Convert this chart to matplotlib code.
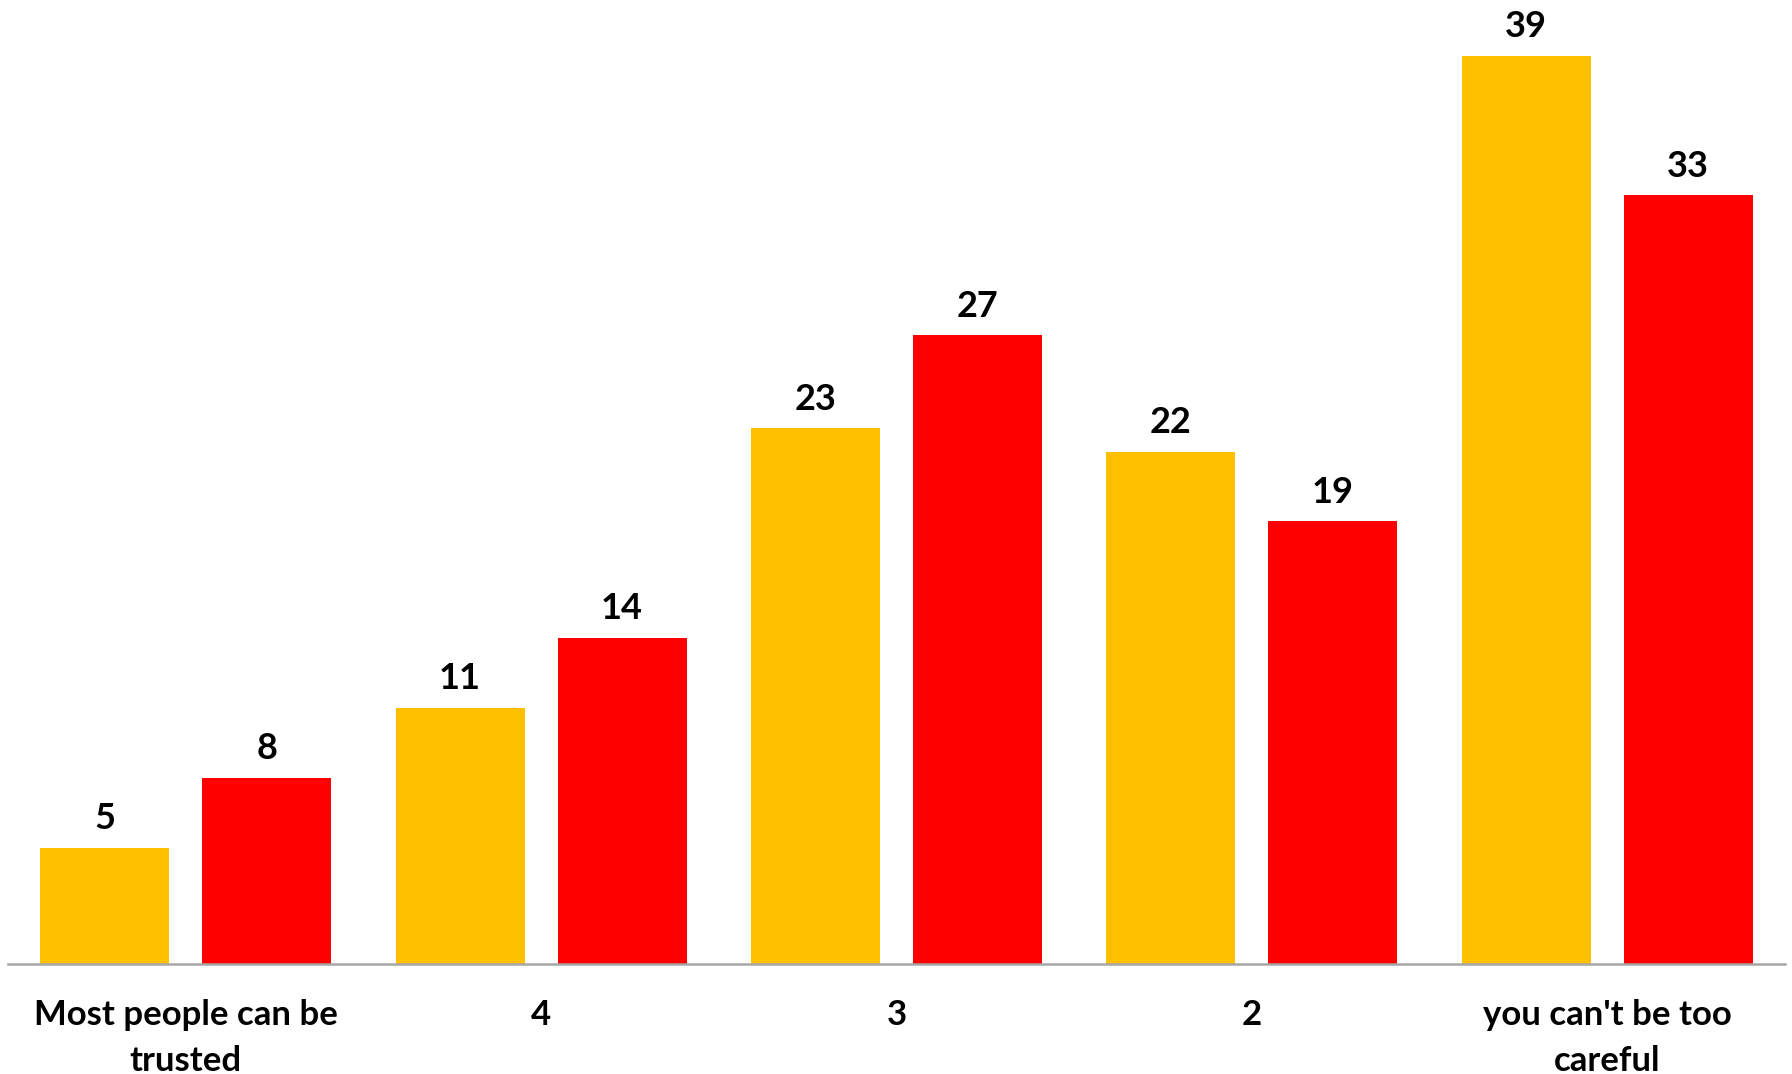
import numpy as np
import matplotlib.pyplot as plt

plt.rcParams['font.family'] = ['Lato', 'DejaVu Sans']

categories = ['Most people can be\ntrusted', '4', '3', '2', "you can't be too\ncareful"]
series_a = [5, 11, 23, 22, 39]
series_b = [8, 14, 27, 19, 33]

fig = plt.figure(figsize=(17.92, 10.74), dpi=100)
ax = fig.add_axes([0.0045, 0.1024, 0.9915, 0.8676])

x = np.arange(len(categories))
w = 0.363
off = 0.228
bars_a = ax.bar(x - off, series_a, w, color='#FFC000')
bars_b = ax.bar(x + off, series_b, w, color='#FF0000')

for bars in (bars_a, bars_b):
    for b in bars:
        ax.annotate(f'{b.get_height():g}', (b.get_x() + b.get_width() / 2, b.get_height()),
                    xytext=(0, 9), textcoords='offset points', ha='center', va='bottom',
                    fontsize=26, fontweight='bold', annotation_clip=False)

ax.set_xlim(-0.5, 4.5)
ax.set_ylim(0, 40)
ax.set_xticks(x)
ax.set_xticklabels(categories, fontsize=25, fontweight='bold', linespacing=1.55)
ax.tick_params(axis='x', length=0, pad=25)
ax.set_yticks([])
for s in ['top', 'right', 'left']:
    ax.spines[s].set_visible(False)
ax.spines['bottom'].set_color('#A6A6A6')
ax.spines['bottom'].set_linewidth(1.8)

fig.savefig('out.png', dpi=100)
